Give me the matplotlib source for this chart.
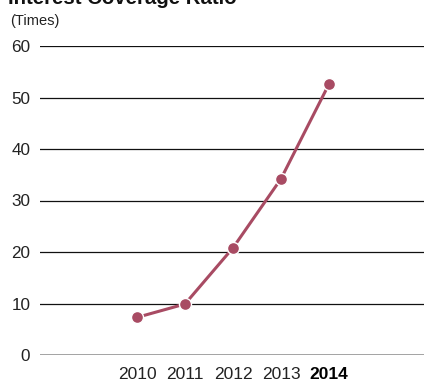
import matplotlib
matplotlib.use("Agg")
import matplotlib.pyplot as plt

plt.rcParams['font.family'] = ['Liberation Sans', 'DejaVu Sans']

years = ['2010', '2011', '2012', '2013', '2014']
values = [7.3, 9.9, 20.8, 34.2, 52.6]
yticks = [0, 10, 20, 30, 40, 50, 60]

W, H = 424, 381
fig = plt.figure(figsize=(W/100, H/100), dpi=100)
ax = fig.add_axes([40/W, 26/H, 1 - 40/W, (355-46)/H])

xs = list(range(len(years)))
color = '#A84B63'
ax.plot(xs, values, color=color, lw=2.2, zorder=3)
ax.scatter(xs, values, s=75, color=color, edgecolor='white', linewidth=1.0, zorder=4)

ax.set_xlim(-2.02, 5.98)
ax.set_ylim(0, 60)
for t in yticks[1:]:
    ax.axhline(t, color='#111111', lw=0.9, zorder=1)
ax.axhline(0, color='#888888', lw=1.8, zorder=1)

for s in ax.spines.values():
    s.set_visible(False)
ax.set_yticks(yticks)
ax.set_yticklabels([str(t) for t in yticks], fontsize=12.3, color='#222222')
ax.tick_params(axis='y', length=0, pad=7)
ax.set_xticks(xs)
ax.set_xticklabels(years, fontsize=12.5, color='#222222')
ax.tick_params(axis='x', length=0, pad=8.5)
ax.get_xticklabels()[-1].set_fontweight('bold')
ax.get_xticklabels()[-1].set_color('#000000')

fig.text(8/W, 1 - 4.5/H, 'Interest Coverage Ratio', fontsize=14.7, fontweight='bold',
         va='baseline', ha='left', color='#111111')
fig.text(10/W, 1 - 24.5/H, '(Times)', fontsize=10.5, va='baseline', ha='left', color='#222222')

fig.savefig('out.png', dpi=100)
